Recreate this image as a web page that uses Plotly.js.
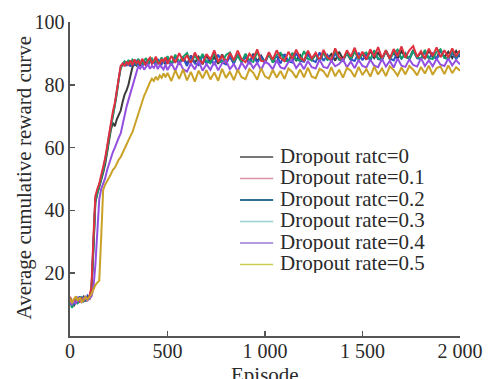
<!DOCTYPE html>
<html>
<head>
<meta charset="utf-8">
<script src="https://cdn.plot.ly/plotly-3.0.1.min.js"></script>
<style>html,body{margin:0;padding:0;background:#fff;}#chart{width:489px;height:379px;}</style>
</head>
<body>
<div id="chart"></div>
<script>
// Episodes (x values)
const episodes = [
  0,10,20,30,40,50,60,70,80,90,100,110,120,130,140,150,160,170,180,190,
  200,210,220,230,240,250,260,270,280,290,300,310,320,330,340,350,360,370,380,390,
  400,410,420,430,440,450,460,470,480,490,
  500,520,540,560,580,600,620,640,660,680,700,720,740,760,780,800,820,840,860,880,
  900,920,940,960,980,1000,1020,1040,1060,1080,1100,1120,1140,1160,1180,1200,1220,1240,1260,1280,
  1300,1320,1340,1360,1380,1400,1420,1440,1460,1480,1500,1520,1540,1560,1580,1600,1620,1640,1660,1680,
  1700,1720,1740,1760,1780,1800,1820,1840,1860,1880,1900,1920,1940,1960,1980,2000
];

const rate0 = [
  12.2,10.8,9.5,11.2,12.4,11.0,11.8,12.5,11.1,12.0,11.8,14.0,27.5,42.5,45.2,47.2,49.6,52.0,54.6,58.0,
  62.5,65.8,67.9,66.8,69.0,70.2,71.8,74.6,76.9,78.2,80.1,82.9,85.6,87.0,86.2,87.4,86.0,87.8,86.6,87.2,
  86.3,88.0,86.9,87.5,86.4,87.9,86.7,88.1,87.2,86.6,
  88.5,86.4,89.1,86.8,88.7,86.6,89.3,87.0,88.9,86.5,
  89.4,87.1,88.8,86.7,89.7,87.3,89.0,86.9,89.6,87.4,
  89.1,87.0,89.9,87.5,89.3,87.2,90.0,87.7,87.3,89.7,
  89.2,87.4,90.1,87.8,89.5,87.4,90.3,87.9,89.7,87.6,
  90.2,88.1,89.8,87.7,90.5,88.2,90.0,87.9,90.7,88.4,
  89.9,88.0,90.8,88.5,90.2,88.1,91.0,88.6,90.4,88.3,
  90.7,88.8,88.4,91.1,88.7,90.3,88.2,90.9,88.9,88.5,
  91.2,88.8,90.5,88.5,90.8,88.9
];

const rate01 = [
  12.5,10.2,11.8,10.6,12.1,11.0,11.9,11.3,12.4,11.6,12.8,15.5,31.0,44.5,46.8,48.5,51.2,53.8,56.5,60.2,
  64.5,67.8,71.5,74.2,78.5,83.2,86.0,86.8,85.9,87.4,86.5,87.8,86.2,88.1,86.9,87.6,86.4,88.3,87.0,86.1,
  87.9,88.6,86.8,87.5,89.0,87.2,86.5,88.2,87.4,88.8,
  86.6,89.2,87.0,90.1,87.5,89.4,86.8,90.3,87.9,86.9,
  89.8,88.0,91.0,87.3,89.2,86.9,90.2,87.8,90.9,88.1,
  87.2,89.9,88.3,91.3,87.6,87.4,90.4,88.0,91.0,88.5,
  87.5,90.5,88.2,91.2,88.6,87.7,90.9,88.4,90.2,87.8,
  91.1,88.7,88.0,91.6,88.8,88.0,91.0,89.0,91.8,88.4,
  90.5,88.1,91.3,88.9,92.0,88.5,90.9,88.3,91.4,89.1,
  92.2,88.7,91.0,92.3,88.9,90.7,88.4,91.5,89.2,91.9,
  88.8,91.0,88.7,91.6,89.1,91.0
];

const rate02 = [
  12.0,9.6,10.8,11.5,10.9,12.6,11.2,12.0,11.4,12.9,12.2,14.8,29.5,43.8,46.0,47.9,50.5,53.0,55.8,59.5,
  63.8,66.9,70.4,73.6,77.9,82.6,85.7,86.3,87.2,86.0,87.5,85.8,87.0,86.4,87.9,86.2,87.3,85.9,87.6,86.8,
  86.1,88.0,86.7,87.4,86.3,88.2,87.0,86.5,87.8,86.9,
  88.2,86.2,89.0,86.6,88.6,86.0,89.2,86.9,86.3,89.4,
  86.8,88.8,86.3,89.6,87.1,86.5,89.1,86.7,89.7,87.2,
  88.9,86.6,89.5,87.0,89.0,86.9,89.9,87.4,89.2,86.8,
  89.8,87.5,87.1,90.1,87.7,87.3,89.7,87.9,87.2,90.3,
  87.6,89.5,87.4,90.0,88.0,87.5,90.4,88.1,87.6,90.2,
  87.8,89.8,87.7,90.5,88.2,87.9,90.7,88.4,87.8,90.3,
  88.3,90.1,88.0,90.8,88.5,88.1,90.4,88.4,90.0,87.9,
  90.9,88.6,88.3,90.2,88.2,89.9
];

const rate03 = [
  11.2,9.0,10.4,11.8,10.5,11.4,12.3,11.0,11.7,12.1,12.6,14.2,28.0,43.0,45.6,47.5,50.0,52.6,55.2,58.8,
  63.0,66.4,70.0,73.2,77.0,81.8,85.2,86.6,87.5,86.8,87.9,86.5,88.0,87.2,86.6,88.3,87.1,86.4,87.7,88.5,
  86.9,87.4,88.6,87.0,88.1,86.8,87.6,88.7,87.3,87.9,
  89.1,86.7,89.6,87.3,88.9,90.1,87.0,89.3,87.4,89.8,
  87.5,86.9,90.0,87.6,87.1,89.5,90.3,87.4,89.2,87.2,
  89.9,87.8,87.3,90.4,87.9,87.5,89.7,87.1,89.6,90.2,
  87.7,87.4,90.1,88.1,87.6,90.7,88.2,87.8,89.9,87.5,
  90.5,88.0,88.4,90.9,88.1,87.7,90.2,88.3,90.8,87.9,
  89.7,90.3,88.0,91.0,88.4,88.1,90.6,88.2,90.1,91.2,
  88.3,90.0,88.1,90.8,88.7,88.4,91.1,88.5,88.2,90.5,
  91.3,88.6,88.3,90.9,88.9,90.7
];

const rate04 = [
  11.0,9.8,11.3,10.2,12.0,11.5,10.8,12.2,11.6,11.3,12.0,12.6,15.2,22.5,33.0,43.5,46.8,48.6,50.2,52.8,
  55.0,56.9,58.6,60.0,61.8,63.2,64.5,67.6,70.8,73.0,75.2,77.3,79.0,81.6,84.0,85.9,85.2,86.3,84.8,85.9,
  86.6,85.1,86.0,85.4,86.8,85.0,86.2,85.6,84.9,86.4,
  84.7,86.9,84.4,87.5,85.0,84.2,86.8,84.9,87.6,84.5,
  86.6,84.8,87.3,84.6,86.9,87.7,85.0,86.6,84.3,87.1,
  85.2,87.6,85.3,87.0,84.7,87.4,86.6,84.9,87.8,85.5,
  85.1,87.2,87.9,85.3,87.0,85.0,87.6,85.6,85.2,88.0,
  85.7,85.3,87.7,85.9,86.6,88.1,85.6,87.4,85.3,87.9,
  86.0,85.5,88.0,86.1,85.6,88.2,85.8,87.6,85.5,88.4,
  86.1,85.7,88.1,86.3,85.8,88.5,86.0,87.8,85.9,88.3,
  86.4,86.0,88.4,86.2,87.9,86.5
];

const rate05 = [
  12.0,10.5,11.7,12.6,11.2,12.3,10.9,11.8,12.4,11.6,12.5,13.4,14.8,16.2,17.0,17.6,31.5,46.5,48.2,49.1,
  50.4,51.6,52.9,53.6,55.0,56.2,57.0,58.3,59.2,61.0,62.4,63.5,64.9,66.8,68.7,70.6,72.8,74.9,76.5,77.8,
  79.4,80.8,81.9,81.2,82.6,81.5,83.0,82.2,83.6,82.4,
  83.8,81.2,84.6,81.9,84.9,81.4,84.1,81.0,84.5,82.1,
  84.7,81.7,83.9,81.3,85.1,82.2,84.2,81.5,84.8,82.4,
  81.8,85.0,83.8,81.6,85.3,82.7,82.0,84.7,82.3,84.4,
  81.9,85.2,84.1,82.2,84.9,82.4,85.5,82.6,82.1,85.1,
  84.3,82.4,85.6,82.7,84.8,82.3,85.4,84.5,82.5,85.7,
  83.1,85.0,82.6,85.8,83.3,85.2,82.8,85.9,84.7,82.9,
  85.5,83.3,86.0,84.8,83.0,85.7,83.6,86.1,83.2,85.3,
  85.8,83.4,86.2,83.7,85.6,84.5
];

const seriesNames = ['Dropout ratc=0','Dropout rate=0.1','Dropout ratc=0.2','Dropout rate=0.3','Dropout rate=0.4','Dropout rate=0.5'];
const seriesValues = [rate0, rate01, rate02, rate03, rate04, rate05];
const lineColors = ['#3a3a3a','#e03040','#2f52c8','#14a06a','#9350e0','#c9a227'];
const legendColors = ['#4a4a4a','#d694a4','#2f6f8f','#9ccfcf','#9a7ad6','#cccc55'];
const drawOrder = [0,2,3,1,4,5];

const xTickVals = [0,500,1000,1500,2000];
const xTickText = ['0','500','1 000','1 500','2 000'];
const yTickVals = [20,40,60,80,100];
const xTitle = 'Episode';
const yTitle = 'Average cumulative reward curve';

const traces = drawOrder.map(i => ({
  type:'scatter', mode:'lines', name: seriesNames[i],
  x: episodes, y: seriesValues[i],
  line:{color: lineColors[i], width:2},
  showlegend:false, hoverinfo:'skip'
}));

const serif = 'Liberation Serif, Times New Roman, Times, serif';
const txtColor = '#2a2a2a';

// manual legend (compact rows like the reference)
const legX0 = 0.436, legX1 = 0.521, legTextX = 0.533;
const legTop = 0.570, legStep = 0.0685;
const shapes = [], annotations = [];
seriesNames.forEach((nm, i) => {
  const yy = legTop - i*legStep;
  shapes.push({type:'line', xref:'paper', yref:'paper', x0:legX0, x1:legX1, y0:yy, y1:yy,
    line:{color: legendColors[i], width: i===2 ? 2 : 1.4}});
  annotations.push({xref:'paper', yref:'paper', x:legTextX, y:yy+0.006, xanchor:'left', yanchor:'middle',
    height:21, text: nm, showarrow:false, font:{family: serif, size:21, color: txtColor}});
});
// axis titles
annotations.push({xref:'paper', yref:'paper', x:0.5, y:0, xanchor:'center', yanchor:'top', yshift:-25,
  text: xTitle, showarrow:false, font:{family: serif, size:21, color: txtColor}});
annotations.push({xref:'paper', yref:'paper', x:0, y:0.505, xanchor:'center', yanchor:'middle', xshift:-46,
  textangle:-90, text: yTitle, showarrow:false, font:{family: serif, size:21, color: txtColor}});

const layout = {
  width:489, height:379,
  margin:{l:70, r:29, t:22, b:43},
  paper_bgcolor:'#ffffff', plot_bgcolor:'#ffffff',
  showlegend:false,
  font:{family: serif, size:20, color: txtColor},
  xaxis:{
    range:[0,2000], tickmode:'array', tickvals:xTickVals, ticktext:xTickText,
    ticks:'inside', ticklen:5, tickwidth:1.5, tickcolor:'#555',
    showline:true, linecolor:'#555', linewidth:1.6,
    showgrid:false, zeroline:false, automargin:false,
    ticklabelstandoff:-4,
    tickfont:{family: serif, size:20, color: txtColor}
  },
  yaxis:{
    range:[0,100], tickmode:'array', tickvals:yTickVals,
    ticks:'inside', ticklen:5, tickwidth:1.5, tickcolor:'#555',
    showline:true, linecolor:'#555', linewidth:1.6,
    showgrid:false, zeroline:false, automargin:false,
    tickfont:{family: serif, size:20, color: txtColor}
  },
  shapes: shapes,
  annotations: annotations
};

Plotly.newPlot('chart', traces, layout, {displayModeBar:false, staticPlot:true});
</script>
</body>
</html>
